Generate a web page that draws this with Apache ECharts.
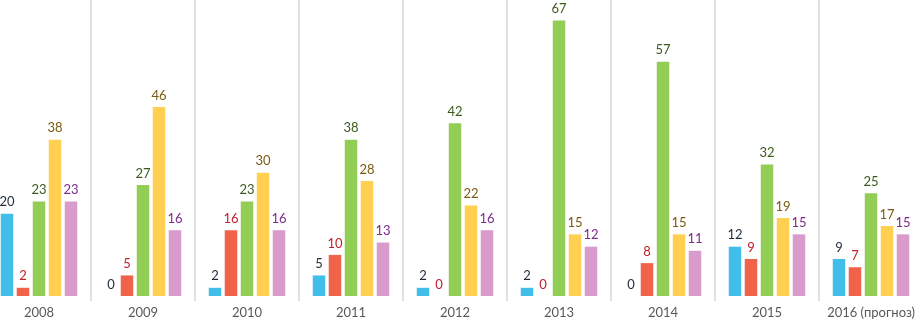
<!DOCTYPE html>
<html>
<head>
<meta charset="utf-8">
<script src="https://cdn.jsdelivr.net/npm/echarts@6/dist/echarts.min.js"></script>
<style>
  html, body { margin: 0; padding: 0; background: #fff; overflow: hidden; }
  /* the original is cropped on the left, so the canvas is wider and shifted */
  #chart { width: 936px; height: 323px; margin-left: -13px; }
</style>
</head>
<body>
<div id="chart"></div>
<script>
const years = ['2008', '2009', '2010', '2011', '2012', '2013', '2014', '2015', '2016 (прогноз)']
const s1 = [20, 0, 2, 5, 2, 2, 0, 12, 9]
const s2 = [2, 5, 16, 10, 0, 0, 8, 9, 7]
const s3 = [23, 27, 23, 38, 42, 67, 57, 32, 25]
const s4 = [38, 46, 30, 28, 22, 15, 15, 19, 17]
const s5 = [23, 16, 16, 13, 16, 12, 11, 15, 15]

const barColors = ['#41BEEA', '#F0624A', '#92CD55', '#FFD052', '#D89BCB']
const labelColors = ['#1F2A3A', '#C0202A', '#3B5A1C', '#7A5A10', '#7A2A88']

const chart = echarts.init(document.getElementById('chart'))

function makeSeries(data, i) {
  return {
    type: 'bar',
    data: data,
    barWidth: 12.5,
    barGap: '28%',
    itemStyle: { color: barColors[i] },
    label: {
      show: true,
      position: 'top',
      distance: 5,
      color: labelColors[i],
      fontFamily: 'Lato',
      fontSize: 13
    },
    animation: false
  }
}

chart.setOption({
  grid: { left: 0, right: 0, top: 0, bottom: 27, containLabel: false },
  xAxis: {
    type: 'category',
    data: years,
    axisLine: { show: false },
    axisTick: { show: true, interval: 0, length: 5, lineStyle: { color: '#D9D9D9', width: 1.5 } },
    splitLine: { show: true, interval: 0, lineStyle: { color: '#D9D9D9', width: 1.5 } },
    axisLabel: { interval: 0, color: '#595959', fontFamily: 'Lato', fontSize: 13, margin: 10 }
  },
  yAxis: {
    type: 'value',
    min: 0,
    max: 72,
    show: false,
    splitLine: { show: false }
  },
  series: [s1, s2, s3, s4, s5].map(makeSeries)
})
</script>
</body>
</html>
